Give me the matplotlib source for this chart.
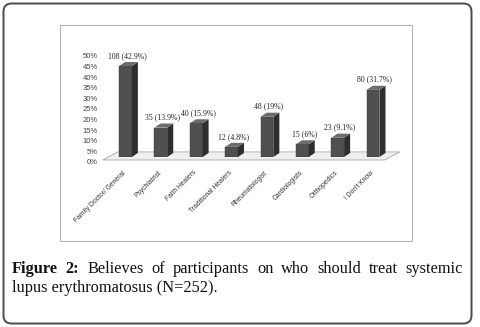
import matplotlib
matplotlib.use("Agg")
import matplotlib.pyplot as plt
from matplotlib.patches import Polygon, FancyBboxPatch, Rectangle
from matplotlib.transforms import ScaledTranslation

categories = ["Family Doctor/ General", "Psychiatrist", "Faith Healers", "Traditional Healers",
              "Rheumatologist", "Cardiologists", "Orthopedics", "I Don't Know"]
counts = [108, 35, 40, 12, 48, 15, 23, 80]
percents = [42.9, 13.9, 15.9, 4.8, 19, 6, 9.1, 31.7]
value_labels = ["108 (42.9%)", "35 (13.9%)", "40 (15.9%)", "12 (4.8%)",
                "48 (19%)", "15 (6%)", "23 (9.1%)", "80 (31.7%)"]
yticks = [0, 5, 10, 15, 20, 25, 30, 35, 40, 45, 50]
ytick_labels = [f"{t}%" for t in yticks]

W, H = 480, 327
fig = plt.figure(figsize=(W / 100, H / 100), dpi=100)
fig.patch.set_facecolor("white")

# outer rounded border
fig.patches.append(FancyBboxPatch((0.035, 0.035), 4.68, 3.20,
                                  boxstyle="round,pad=0,rounding_size=0.08",
                                  transform=fig.dpi_scale_trans, fill=False,
                                  edgecolor="#4a4a4a", linewidth=1.4))
# inner chart frame
fig.patches.append(Rectangle((60 / W, 1 - 241 / H), (412 - 60) / W, (241 - 25) / H,
                             transform=fig.transFigure, fill=False,
                             edgecolor="#b4b4b4", linewidth=0.8))

ax_l, ax_r = 107.8, 390.8
ax_b, ax_t = 157, 51
ax = fig.add_axes([ax_l / W, 1 - ax_b / H, (ax_r - ax_l) / W, (ax_b - ax_t) / H])
ax.set_xlim(-0.5, 7.5)
ax.set_ylim(0, 50)
ax.patch.set_visible(False)
for s in ax.spines.values():
    s.set_visible(False)

x = list(range(len(categories)))
w = 0.36
dx, dy = 0.17, 1.9

# floor
floor = Polygon([(-0.64, -1.4), (7.33, -1.4), (7.75, 2.4), (-0.22, 2.4)], closed=True,
                facecolor="#efefef", edgecolor="#a8a8a8", linewidth=0.6,
                clip_on=False, zorder=1)
ax.add_patch(floor)

bars = ax.bar(x, percents, width=w, color="#505050", edgecolor="#3a3a3a",
              linewidth=0.3, zorder=3)
for xi, v in zip(x, percents):
    side = Polygon([(xi + w / 2, 0), (xi + w / 2 + dx, dy), (xi + w / 2 + dx, v + dy), (xi + w / 2, v)],
                   closed=True, facecolor="#2e2e2e", edgecolor="none", zorder=3, clip_on=False)
    top = Polygon([(xi - w / 2, v), (xi + w / 2, v), (xi + w / 2 + dx, v + dy), (xi - w / 2 + dx, v + dy)],
                  closed=True, facecolor="#6c6c6c", edgecolor="none", zorder=3, clip_on=False)
    ax.add_patch(side)
    ax.add_patch(top)

for xi, v, lab in zip(x, percents, value_labels):
    ax.annotate(lab, (xi + 0.05, v + dy), xytext=(0, 1.5), textcoords="offset points",
                ha="center", va="bottom", fontsize=5.6, family="Liberation Serif",
                color="#222222", annotation_clip=False)

ax.set_yticks(yticks)
ax.set_yticklabels(ytick_labels, fontsize=5.5, color="#444444", family="Liberation Sans")
ax.tick_params(axis="y", length=0, pad=7)
off = ScaledTranslation(0, -0.05, fig.dpi_scale_trans)
for lab in ax.get_yticklabels():
    lab.set_transform(lab.get_transform() + off)

ax.set_xticks([xi - 0.08 for xi in x])
ax.set_xticklabels(categories, rotation=45, ha="right", va="top", rotation_mode="anchor",
                   fontsize=4.9, color="#333333", family="Liberation Sans")
ax.tick_params(axis="x", length=0, pad=9)

# caption, justified first line
renderer = fig.canvas.get_renderer()
cap_font = dict(family="Liberation Serif", fontsize=11.8, color="#111111")
x0, x1 = 12 / W, 463 / W
y1, y2 = 1 - 273 / H, 1 - 292 / H
words = [("Figure", "bold"), ("2:", "bold"), ("Believes", "normal"), ("of", "normal"),
         ("participants", "normal"), ("on", "normal"), ("who", "normal"), ("should", "normal"),
         ("treat", "normal"), ("systemic", "normal")]
texts = []
widths = []
for wd, wt in words:
    t = fig.text(0, y1, wd, fontweight=wt, va="baseline", ha="left", **cap_font)
    texts.append(t)
    widths.append(t.get_window_extent(renderer).width / W)
gap = (x1 - x0 - sum(widths)) / (len(words) - 1)
cx = x0
for t, wdt in zip(texts, widths):
    t.set_x(cx)
    cx += wdt + gap
fig.text(x0, y2, "lupus erythromatosus (N=252).", va="baseline", ha="left", **cap_font)

fig.savefig("out.png", dpi=100)
